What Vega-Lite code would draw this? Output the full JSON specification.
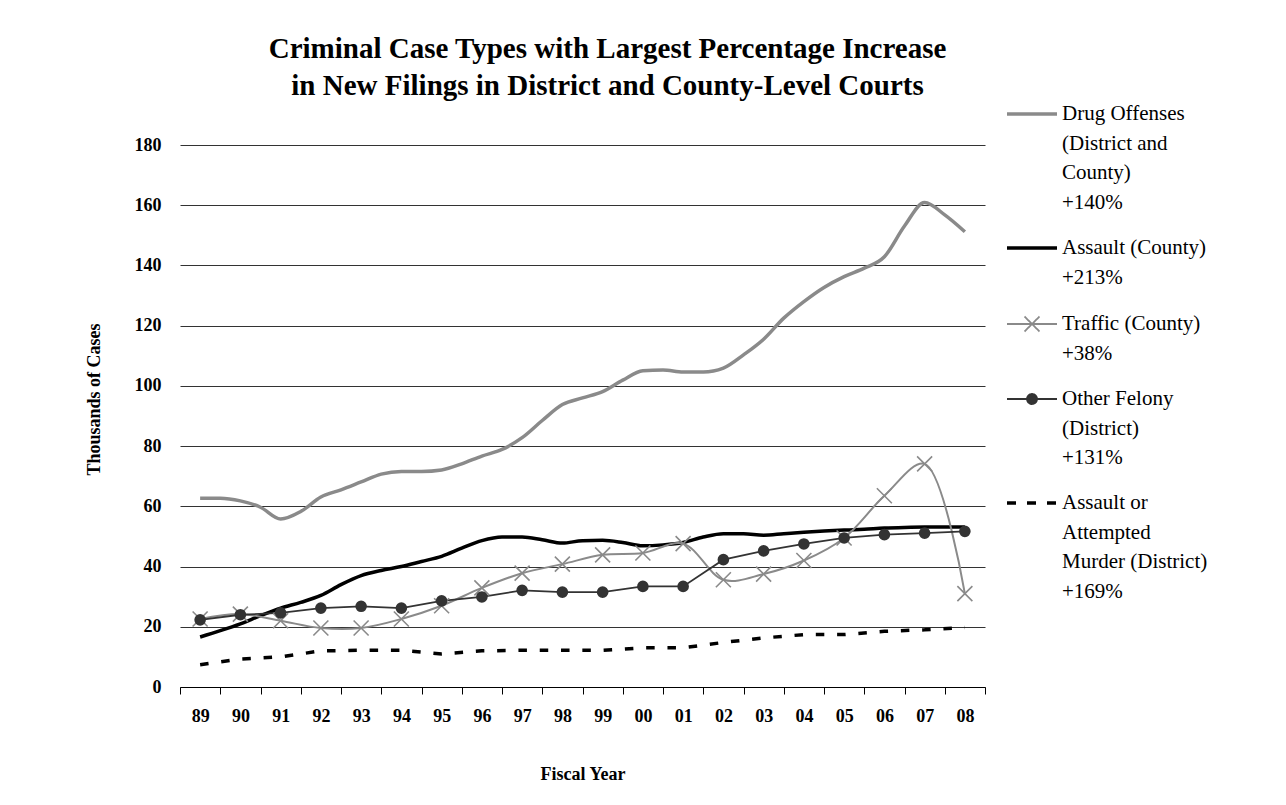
{
  "$schema": "https://vega.github.io/schema/vega-lite/v6.json",
  "autosize": {"type": "none"},
  "padding": {"left": 180, "top": 145, "right": 301, "bottom": 118},
  "width": 805,
  "height": 542,
  "background": "#ffffff",
  "title": {
    "text": ["Criminal Case Types with Largest Percentage Increase", "in New Filings in District and County-Level Courts"],
    "font": "Liberation Serif",
    "fontSize": 29,
    "fontWeight": "bold",
    "color": "#000000",
    "lineHeight": 37,
    "anchor": "middle",
    "dx": 25,
    "offset": 2
  },
  "config": {
    "view": {"stroke": null},
    "font": "Liberation Serif"
  },
  "datasets": {
    "cases": [
      {"series": "Drug Offenses", "year": 1989, "value": 62.7},
      {"series": "Drug Offenses", "year": 1989.5, "value": 62.7},
      {"series": "Drug Offenses", "year": 1990, "value": 61.8},
      {"series": "Drug Offenses", "year": 1990.5, "value": 59.7},
      {"series": "Drug Offenses", "year": 1991, "value": 55.8},
      {"series": "Drug Offenses", "year": 1991.5, "value": 58.3},
      {"series": "Drug Offenses", "year": 1992, "value": 63.1},
      {"series": "Drug Offenses", "year": 1992.5, "value": 65.5},
      {"series": "Drug Offenses", "year": 1993, "value": 68.1},
      {"series": "Drug Offenses", "year": 1993.5, "value": 70.7},
      {"series": "Drug Offenses", "year": 1994, "value": 71.6},
      {"series": "Drug Offenses", "year": 1994.5, "value": 71.6},
      {"series": "Drug Offenses", "year": 1995, "value": 72.1},
      {"series": "Drug Offenses", "year": 1995.5, "value": 74.1},
      {"series": "Drug Offenses", "year": 1996, "value": 76.7},
      {"series": "Drug Offenses", "year": 1996.5, "value": 78.9},
      {"series": "Drug Offenses", "year": 1997, "value": 82.8},
      {"series": "Drug Offenses", "year": 1997.5, "value": 88.5},
      {"series": "Drug Offenses", "year": 1998, "value": 93.8},
      {"series": "Drug Offenses", "year": 1998.5, "value": 96.0},
      {"series": "Drug Offenses", "year": 1999, "value": 98.1},
      {"series": "Drug Offenses", "year": 1999.5, "value": 101.9},
      {"series": "Drug Offenses", "year": 2000, "value": 105.0},
      {"series": "Drug Offenses", "year": 2000.5, "value": 105.3},
      {"series": "Drug Offenses", "year": 2001, "value": 104.6},
      {"series": "Drug Offenses", "year": 2001.5, "value": 104.6},
      {"series": "Drug Offenses", "year": 2002, "value": 105.9},
      {"series": "Drug Offenses", "year": 2002.5, "value": 110.3},
      {"series": "Drug Offenses", "year": 2003, "value": 115.5},
      {"series": "Drug Offenses", "year": 2003.5, "value": 122.5},
      {"series": "Drug Offenses", "year": 2004, "value": 128.0},
      {"series": "Drug Offenses", "year": 2004.5, "value": 132.7},
      {"series": "Drug Offenses", "year": 2005, "value": 136.3},
      {"series": "Drug Offenses", "year": 2005.5, "value": 139.1},
      {"series": "Drug Offenses", "year": 2006, "value": 142.9},
      {"series": "Drug Offenses", "year": 2006.5, "value": 153.1},
      {"series": "Drug Offenses", "year": 2007, "value": 160.9},
      {"series": "Drug Offenses", "year": 2007.5, "value": 156.8},
      {"series": "Drug Offenses", "year": 2008, "value": 151.2},

      {"series": "Assault (County)", "year": 1989, "value": 16.6},
      {"series": "Assault (County)", "year": 1989.5, "value": 18.7},
      {"series": "Assault (County)", "year": 1990, "value": 21.0},
      {"series": "Assault (County)", "year": 1990.5, "value": 23.7},
      {"series": "Assault (County)", "year": 1991, "value": 26.2},
      {"series": "Assault (County)", "year": 1991.5, "value": 28.1},
      {"series": "Assault (County)", "year": 1992, "value": 30.4},
      {"series": "Assault (County)", "year": 1992.5, "value": 34.0},
      {"series": "Assault (County)", "year": 1993, "value": 37.0},
      {"series": "Assault (County)", "year": 1993.5, "value": 38.7},
      {"series": "Assault (County)", "year": 1994, "value": 40.0},
      {"series": "Assault (County)", "year": 1994.5, "value": 41.7},
      {"series": "Assault (County)", "year": 1995, "value": 43.4},
      {"series": "Assault (County)", "year": 1995.5, "value": 46.1},
      {"series": "Assault (County)", "year": 1996, "value": 48.6},
      {"series": "Assault (County)", "year": 1996.5, "value": 49.8},
      {"series": "Assault (County)", "year": 1997, "value": 49.8},
      {"series": "Assault (County)", "year": 1997.5, "value": 48.9},
      {"series": "Assault (County)", "year": 1998, "value": 47.8},
      {"series": "Assault (County)", "year": 1998.5, "value": 48.6},
      {"series": "Assault (County)", "year": 1999, "value": 48.7},
      {"series": "Assault (County)", "year": 1999.5, "value": 48.0},
      {"series": "Assault (County)", "year": 2000, "value": 46.9},
      {"series": "Assault (County)", "year": 2000.5, "value": 47.2},
      {"series": "Assault (County)", "year": 2001, "value": 48.0},
      {"series": "Assault (County)", "year": 2001.5, "value": 49.8},
      {"series": "Assault (County)", "year": 2002, "value": 50.9},
      {"series": "Assault (County)", "year": 2002.5, "value": 50.9},
      {"series": "Assault (County)", "year": 2003, "value": 50.4},
      {"series": "Assault (County)", "year": 2003.5, "value": 50.9},
      {"series": "Assault (County)", "year": 2004, "value": 51.4},
      {"series": "Assault (County)", "year": 2004.5, "value": 51.8},
      {"series": "Assault (County)", "year": 2005, "value": 52.1},
      {"series": "Assault (County)", "year": 2005.5, "value": 52.4},
      {"series": "Assault (County)", "year": 2006, "value": 52.8},
      {"series": "Assault (County)", "year": 2006.5, "value": 53.0},
      {"series": "Assault (County)", "year": 2007, "value": 53.1},
      {"series": "Assault (County)", "year": 2007.5, "value": 53.1},
      {"series": "Assault (County)", "year": 2008, "value": 53.1},

      {"series": "Traffic (County)", "year": 1989, "value": 22.6},
      {"series": "Traffic (County)", "year": 1990, "value": 24.2},
      {"series": "Traffic (County)", "year": 1991, "value": 22.0},
      {"series": "Traffic (County)", "year": 1992, "value": 19.6},
      {"series": "Traffic (County)", "year": 1993, "value": 19.6},
      {"series": "Traffic (County)", "year": 1994, "value": 22.6},
      {"series": "Traffic (County)", "year": 1995, "value": 27.0},
      {"series": "Traffic (County)", "year": 1996, "value": 32.9},
      {"series": "Traffic (County)", "year": 1997, "value": 37.8},
      {"series": "Traffic (County)", "year": 1998, "value": 40.8},
      {"series": "Traffic (County)", "year": 1999, "value": 43.9},
      {"series": "Traffic (County)", "year": 2000, "value": 44.5},
      {"series": "Traffic (County)", "year": 2001, "value": 47.6},
      {"series": "Traffic (County)", "year": 2002, "value": 35.6},
      {"series": "Traffic (County)", "year": 2003, "value": 37.5},
      {"series": "Traffic (County)", "year": 2004, "value": 42.0},
      {"series": "Traffic (County)", "year": 2005, "value": 49.5},
      {"series": "Traffic (County)", "year": 2006, "value": 63.5},
      {"series": "Traffic (County)", "year": 2007, "value": 74.1},
      {"series": "Traffic (County)", "year": 2008, "value": 31.0},

      {"series": "Other Felony (District)", "year": 1989, "value": 22.3},
      {"series": "Other Felony (District)", "year": 1990, "value": 24.0},
      {"series": "Other Felony (District)", "year": 1991, "value": 24.6},
      {"series": "Other Felony (District)", "year": 1992, "value": 26.2},
      {"series": "Other Felony (District)", "year": 1993, "value": 26.8},
      {"series": "Other Felony (District)", "year": 1994, "value": 26.2},
      {"series": "Other Felony (District)", "year": 1995, "value": 28.6},
      {"series": "Other Felony (District)", "year": 1996, "value": 29.9},
      {"series": "Other Felony (District)", "year": 1997, "value": 32.1},
      {"series": "Other Felony (District)", "year": 1998, "value": 31.5},
      {"series": "Other Felony (District)", "year": 1999, "value": 31.5},
      {"series": "Other Felony (District)", "year": 2000, "value": 33.4},
      {"series": "Other Felony (District)", "year": 2001, "value": 33.4},
      {"series": "Other Felony (District)", "year": 2002, "value": 42.3},
      {"series": "Other Felony (District)", "year": 2003, "value": 45.2},
      {"series": "Other Felony (District)", "year": 2004, "value": 47.5},
      {"series": "Other Felony (District)", "year": 2005, "value": 49.5},
      {"series": "Other Felony (District)", "year": 2006, "value": 50.6},
      {"series": "Other Felony (District)", "year": 2007, "value": 51.1},
      {"series": "Other Felony (District)", "year": 2008, "value": 51.7},

      {"series": "Assault or Attempted Murder (District)", "year": 1989, "value": 7.4},
      {"series": "Assault or Attempted Murder (District)", "year": 1990, "value": 9.3},
      {"series": "Assault or Attempted Murder (District)", "year": 1991, "value": 10.0},
      {"series": "Assault or Attempted Murder (District)", "year": 1992, "value": 12.0},
      {"series": "Assault or Attempted Murder (District)", "year": 1993, "value": 12.2},
      {"series": "Assault or Attempted Murder (District)", "year": 1994, "value": 12.2},
      {"series": "Assault or Attempted Murder (District)", "year": 1995, "value": 11.0},
      {"series": "Assault or Attempted Murder (District)", "year": 1996, "value": 12.0},
      {"series": "Assault or Attempted Murder (District)", "year": 1997, "value": 12.2},
      {"series": "Assault or Attempted Murder (District)", "year": 1998, "value": 12.2},
      {"series": "Assault or Attempted Murder (District)", "year": 1999, "value": 12.2},
      {"series": "Assault or Attempted Murder (District)", "year": 2000, "value": 13.0},
      {"series": "Assault or Attempted Murder (District)", "year": 2001, "value": 13.0},
      {"series": "Assault or Attempted Murder (District)", "year": 2002, "value": 14.8},
      {"series": "Assault or Attempted Murder (District)", "year": 2003, "value": 16.3},
      {"series": "Assault or Attempted Murder (District)", "year": 2004, "value": 17.4},
      {"series": "Assault or Attempted Murder (District)", "year": 2005, "value": 17.4},
      {"series": "Assault or Attempted Murder (District)", "year": 2006, "value": 18.5},
      {"series": "Assault or Attempted Murder (District)", "year": 2007, "value": 19.0},
      {"series": "Assault or Attempted Murder (District)", "year": 2008, "value": 19.8}
    ]
  },
  "data": {"name": "cases"},
  "encoding": {
    "x": {
      "field": "year",
      "type": "quantitative",
      "scale": {"domain": [1988.5, 2008.5], "nice": false, "zero": false},
      "axis": {
        "values": [1988.5, 1989.5, 1990.5, 1991.5, 1992.5, 1993.5, 1994.5, 1995.5, 1996.5, 1997.5, 1998.5, 1999.5, 2000.5, 2001.5, 2002.5, 2003.5, 2004.5, 2005.5, 2006.5, 2007.5, 2008.5],
        "labelExpr": "datum.value > 2008 ? '' : slice('' + (datum.value + 0.5), 2)",
        "labelOffset": 20.125,
        "labelOverlap": false,
        "labelBound": false,
        "labelFlush": false,
        "grid": false,
        "tickSize": 7,
        "tickColor": "#000000",
        "tickWidth": 1,
        "domainColor": "#000000",
        "domainWidth": 1,
        "labelFont": "Liberation Serif",
        "labelFontSize": 18,
        "labelFontWeight": "bold",
        "labelColor": "#000000",
        "labelPadding": 13,
        "title": "Fiscal Year",
        "titleFont": "Liberation Serif",
        "titleFontSize": 18,
        "titleFontWeight": "bold",
        "titleColor": "#000000",
        "titlePadding": 40
      }
    },
    "y": {
      "field": "value",
      "type": "quantitative",
      "scale": {"domain": [0, 180], "nice": false, "zero": true},
      "axis": {
        "values": [0, 20, 40, 60, 80, 100, 120, 140, 160, 180],
        "grid": true,
        "gridColor": "#333333",
        "gridWidth": 1,
        "ticks": false,
        "domain": false,
        "labelFont": "Liberation Serif",
        "labelFontSize": 18,
        "labelFontWeight": "bold",
        "labelColor": "#000000",
        "labelPadding": 19,
        "title": "Thousands of Cases",
        "titleFont": "Liberation Serif",
        "titleFontSize": 18,
        "titleFontWeight": "bold",
        "titleColor": "#000000",
        "titlePadding": 31,
        "titleY": 254
      }
    }
  },
  "layer": [
    {
      "transform": [{"filter": "datum.series == 'Drug Offenses'"}],
      "mark": {"type": "line", "interpolate": "monotone", "strokeWidth": 3.5},
      "encoding": {
        "color": {
          "field": "series",
          "type": "nominal",
          "scale": {
            "domain": ["Drug Offenses", "Assault (County)", "Traffic (County)", "Other Felony (District)", "Assault or Attempted Murder (District)"],
            "range": ["#8a8a8a", "#000000", "#8a8a8a", "#333333", "#000000"]
          },
          "legend": {
            "orient": "none",
            "legendX": 827,
            "legendY": -42,
            "title": null,
            "padding": 0,
            "labelFont": "Liberation Serif",
            "labelFontSize": 21,
            "labelColor": "#000000",
            "labelLimit": 400,
            "labelOffset": 4,
            "symbolSize": 2500,
            "rowPadding": 24,
            "labelExpr": "datum.value == 'Drug Offenses' ? ['Drug Offenses', '(District and', 'County)', '+140%'] : datum.value == 'Assault (County)' ? ['Assault (County)', ' +213%'] : datum.value == 'Traffic (County)' ? ['Traffic (County)', '+38%'] : datum.value == 'Other Felony (District)' ? ['Other Felony', '(District)', '+131%'] : ['Assault or', 'Attempted', 'Murder (District)', '+169%']",
            "encode": {
              "symbols": {
                "update": {
                  "shape": {"signal": "datum.value == 'Traffic (County)' ? 'M-1,0H1M-0.3,-0.3L0.3,0.3M-0.3,0.3L0.3,-0.3' : datum.value == 'Other Felony (District)' ? 'M-1,0H1M0.2,0A0.2,0.2 0 1 1 -0.2,0A0.2,0.2 0 1 1 0.2,0Z' : 'M-1,0H1'"},
                  "size": {"value": 2500},
                  "strokeWidth": {"signal": "datum.value == 'Traffic (County)' ? 1.8 : datum.value == 'Other Felony (District)' ? 1.8 : 3.5"},
                  "strokeDash": {"signal": "datum.value == 'Assault or Attempted Murder (District)' ? [9, 11] : [1, 0]"},
                  "fill": {"signal": "datum.value == 'Other Felony (District)' ? '#333333' : 'transparent'"},
                  "fillOpacity": {"value": 1},
                  "x": {"value": 25},
                  "y": {"value": 11}
                }
              },
              "labels": {
                "update": {
                  "baseline": {"value": "top"},
                  "lineHeight": {"value": 29.5},
                  "x": {"value": 55},
                  "y": {"value": 0}
                }
              }
            }
          }
        }
      }
    },
    {
      "transform": [{"filter": "datum.series == 'Assault (County)'"}],
      "mark": {"type": "line", "interpolate": "monotone", "strokeWidth": 3.5},
      "encoding": {"color": {"field": "series", "type": "nominal"}}
    },
    {
      "transform": [{"filter": "datum.series == 'Traffic (County)'"}],
      "mark": {"type": "line", "interpolate": "catmull-rom", "strokeWidth": 2},
      "encoding": {"color": {"field": "series", "type": "nominal"}}
    },
    {
      "transform": [{"filter": "datum.series == 'Other Felony (District)'"}],
      "mark": {"type": "line", "interpolate": "linear", "strokeWidth": 1.8},
      "encoding": {"color": {"field": "series", "type": "nominal"}}
    },
    {
      "transform": [{"filter": "datum.series == 'Assault or Attempted Murder (District)'"}],
      "mark": {"type": "line", "interpolate": "linear", "strokeWidth": 3.5, "strokeDash": [8.5, 12.8]},
      "encoding": {"color": {"field": "series", "type": "nominal"}}
    },
    {
      "transform": [{"filter": "datum.series == 'Traffic (County)'"}],
      "mark": {"type": "point", "shape": "M-1,-1L1,1M-1,1L1,-1", "size": 225, "filled": false, "stroke": "#8a8a8a", "strokeWidth": 1.6, "opacity": 1},
      "encoding": {}
    },
    {
      "transform": [{"filter": "datum.series == 'Other Felony (District)'"}],
      "mark": {"type": "point", "shape": "circle", "size": 135, "filled": true, "fill": "#333333", "opacity": 1},
      "encoding": {}
    }
  ]
}
